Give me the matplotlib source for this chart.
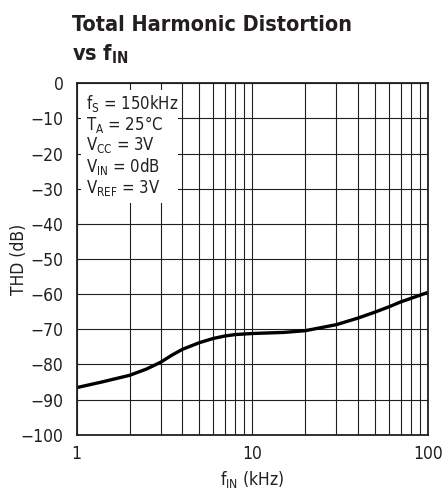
import matplotlib
matplotlib.use("Agg")
import matplotlib.pyplot as plt
from matplotlib.ticker import FixedLocator, NullLocator, NullFormatter
from matplotlib.patches import Rectangle

# Data
freq_khz = [1.0, 1.39, 2.0, 2.5, 3.0, 3.5, 4.0, 5.0, 6.0, 7.0, 8.0, 10.0,
            15.0, 20.0, 30.0, 40.0, 50.0, 60.0, 70.0, 80.0, 90.0, 100.0]
thd_db = [-86.6, -85.0, -83.1, -81.3, -79.4, -77.3, -75.7, -73.8, -72.6,
          -71.9, -71.5, -71.2, -70.9, -70.4, -68.7, -66.8, -65.1, -63.6,
          -62.2, -61.2, -60.3, -59.5]
x_ticks = [1, 10, 100]
x_tick_labels = ["1", "10", "100"]
y_ticks = list(range(-100, 1, 10))
y_tick_labels = ["\u2212100", "\u221290", "\u221280", "\u221270", "\u221260", "\u221250",
                 "\u221240", "\u221230", "\u221220", "\u221210", "0"]
x_minor_grid = [2, 3, 4, 5, 6, 7, 8, 9, 20, 30, 40, 50, 60, 70, 80, 90]
conditions = [r"$\mathregular{f_S}$ = 150kHz",
              r"$\mathregular{T_A}$ = 25°C",
              r"$\mathregular{V_{CC}}$ = 3V",
              r"$\mathregular{V_{IN}}$ = 0dB",
              r"$\mathregular{V_{REF}}$ = 3V"]

plt.rcParams["font.family"] = ["DejaVu Sans"]
plt.rcParams["font.stretch"] = "condensed"
plt.rcParams["axes.unicode_minus"] = True

INK = "#231f20"
FS = 12.5
W, H = 444, 492
fig = plt.figure(figsize=(W / 100, H / 100), dpi=100)
L, R, T, B = 76.7, 428.0, 83.3, 434.7
ax = fig.add_axes([L / W, 1 - B / H, (R - L) / W, (B - T) / H])

ax.set_xscale("log")
ax.set_xlim(1, 100)
ax.set_ylim(-100, 0)

ax.xaxis.set_major_locator(FixedLocator(x_ticks))
ax.set_xticklabels(x_tick_labels)
ax.xaxis.set_minor_locator(FixedLocator(x_minor_grid))
ax.xaxis.set_minor_formatter(NullFormatter())
ax.yaxis.set_major_locator(FixedLocator(y_ticks))
ax.set_yticklabels(y_tick_labels)
ax.yaxis.set_minor_locator(NullLocator())

ax.tick_params(which="both", length=0, labelsize=FS, colors=INK)
ax.tick_params(axis="x", pad=7.5)
ax.tick_params(axis="y", pad=9.5)

ax.grid(True, which="both", axis="x", color=INK, linewidth=0.8, zorder=1)
ax.grid(True, which="major", axis="y", color=INK, linewidth=0.8, zorder=1)
ax.set_axisbelow(True)
for s in ax.spines.values():
    s.set_linewidth(1.3)
    s.set_color(INK)
    s.set_zorder(5)

# white box behind the conditions
bx0 = (81 - L) / (R - L)
bx1 = (178 - L) / (R - L)
by1 = 1 - (90 - T) / (B - T)
by0 = 1 - (203 - T) / (B - T)
ax.add_patch(Rectangle((bx0, by0), bx1 - bx0, by1 - by0, transform=ax.transAxes,
                       facecolor="white", edgecolor="none", zorder=2))

ax.plot(freq_khz, thd_db, color="black", linewidth=2.4, zorder=3,
        solid_capstyle="butt", solid_joinstyle="round")

line_y = [103, 124.5, 145.5, 166.5, 187.5]
for txt, yy in zip(conditions, line_y):
    fig.text(86 / W, 1 - yy / H, txt, fontsize=12, color=INK,
             ha="left", va="center")

fig.text(19 / W, 1 - 259 / H, "THD (dB)", fontsize=FS, color=INK,
         rotation=90, ha="center", va="center")
fig.text(252 / W, 1 - 479 / H, r"$\mathregular{f_{IN}}$ (kHz)", fontsize=FS,
         color=INK, ha="center", va="center")

fig.text(72 / W, 1 - 25 / H, "Total Harmonic Distortion", fontsize=15.5,
         fontweight="bold", color=INK, ha="left", va="center")
fig.text(72 / W, 1 - 54 / H, r"vs $\mathregular{f_{IN}}$", fontsize=15.5,
         fontweight="bold", color=INK, ha="left", va="center")

fig.savefig("out.png", dpi=100)
